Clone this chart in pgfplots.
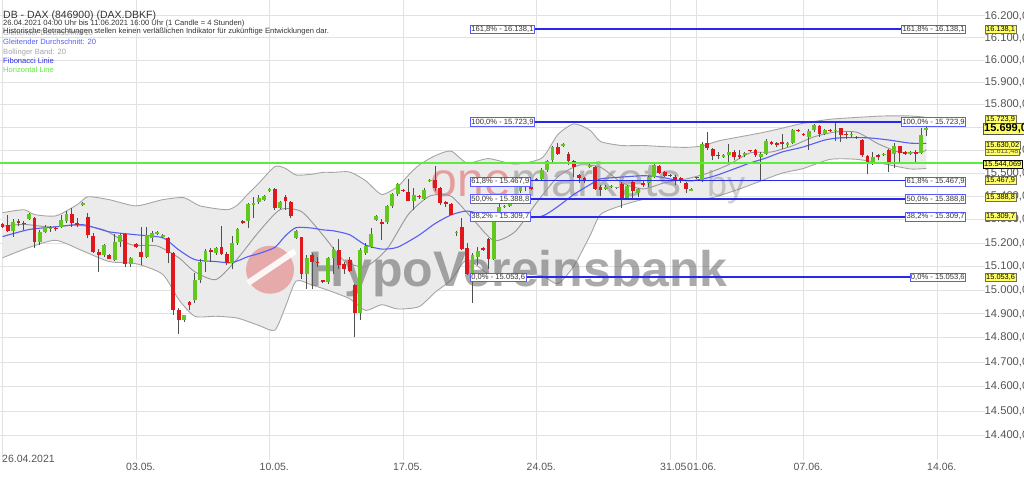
\documentclass[border=0pt]{standalone}
\usepackage{pgfplots}
\pgfplotsset{compat=1.18}
\usepackage{pgfplotstable}
\usepgfplotslibrary{fillbetween}
\usepackage{fontspec}
\setmainfont{Liberation Sans}

\definecolor{gridc}{RGB}{226,226,226}
\definecolor{tickc}{RGB}{85,85,85}
\definecolor{cgreen}{RGB}{98,200,30}
\definecolor{cred}{RGB}{224,24,30}
\definecolor{wickc}{RGB}{80,80,80}
\definecolor{maBlue}{RGB}{85,95,245}
\definecolor{bandc}{RGB}{165,165,165}
\definecolor{bandfill}{RGB}{235,235,235}
\definecolor{ma10c}{RGB}{150,150,150}
\definecolor{fibc}{RGB}{40,40,235}
\definecolor{fibbox}{RGB}{90,90,255}
\definecolor{hline}{RGB}{95,235,60}
\definecolor{ylw}{RGB}{255,255,100}
\definecolor{boxd}{RGB}{110,110,90}
\definecolor{txt}{RGB}{51,51,51}
\definecolor{wmgray}{RGB}{100,100,100}
\definecolor{wmred}{RGB}{220,40,40}

\pgfplotstableread{
n o h l c
0 15278 15282 15262 15267
1 15275 15318 15248 15252
2 15251 15302 15226 15288
3 15291 15302 15272 15284
4 15282 15291 15255 15279
5 15301 15327 15297 15322
6 15305 15312 15179 15205
7 15205 15255 15191 15244
8 15248 15277 15241 15267
9 15258 15272 15248 15265
10 15265 15269 15252 15263
11 15267 15320 15262 15295
12 15291 15334 15284 15324
13 15324 15351 15267 15284
14 15284 15305 15267 15277
15 15363 15374 15358 15370
16 15312 15327 15219 15233
17 15229 15241 15158 15162
18 15162 15172 15076 15148
19 15148 15195 15140 15191
20 15146 15152 15129 15132
21 15126 15238 15123 15205
22 15205 15236 15180 15233
23 15236 15241 15097 15109
24 15109 15140 15097 15136
25 15195 15201 15179 15183
26 15162 15269 15105 15140
27 15140 15269 15133 15233
28 15222 15251 15205 15241
29 15238 15252 15233 15248
30 15226 15238 15222 15233
31 15222 15226 15112 15155
32 15155 15162 14897 14914
33 14918 14922 14815 14875
34 14875 14897 14868 14894
35 14948 14954 14914 14937
36 14958 15072 14947 15043
37 15044 15129 15029 15116
38 15119 15172 15076 15166
39 15169 15176 15119 15162
40 15155 15183 15148 15176
41 15183 15272 15148 15152
42 15152 15162 15105 15112
43 15112 15229 15086 15201
44 15201 15262 15191 15258
45 15291 15295 15280 15284
46 15291 15370 15262 15365
47 15363 15398 15305 15370
48 15373 15406 15367 15391
49 15384 15407 15380 15401
50 15424 15436 15418 15430
51 15430 15434 15341 15348
52 15351 15377 15344 15373
53 15398 15406 15341 15377
54 15375 15380 15305 15315
55 15219 15255 15215 15251
56 15223 15226 15047 15069
57 15069 15148 15004 15137
58 15148 15155 15004 15119
59 15120 15140 15097 15112
60 15040 15044 15029 15033
61 15033 15140 15026 15133
62 15137 15183 15069 15172
63 15169 15215 15090 15105
64 15109 15116 15069 15090
65 15126 15140 15076 15080
66 15019 15026 14804 14904
67 14904 15176 14875 15169
68 15155 15198 15148 15188
69 15183 15262 15176 15236
70 15298 15320 15294 15315
71 15287 15301 15212 15281
72 15287 15363 15281 15358
73 15358 15413 15348 15408
74 15408 15456 15401 15451
75 15427 15431 15416 15420
76 15416 15473 15377 15380
77 15380 15434 15341 15406
78 15401 15405 15390 15395
79 15388 15434 15384 15427
80 15463 15474 15459 15470
81 15470 15530 15420 15434
82 15434 15441 15363 15370
83 15373 15377 15355 15367
84 15367 15370 15318 15320
85 15241 15252 15229 15248
86 15267 15305 15169 15173
87 15176 15198 15062 15069
88 15069 15155 14947 15148
89 15140 15183 15105 15166
90 15176 15180 15165 15169
91 15215 15219 15090 15129
92 15129 15320 15126 15305
93 15305 15377 15301 15355
94 15352 15362 15348 15358
95 15358 15384 15352 15380
96 15384 15406 15370 15398
97 15420 15463 15413 15453
98 15456 15459 15420 15438
99 15437 15441 15426 15430
100 15473 15477 15463 15467
101 15474 15520 15470 15513
102 15513 15556 15506 15552
103 15556 15616 15549 15613
104 15613 15631 15580 15585
105 15619 15632 15615 15628
106 15582 15592 15534 15552
107 15552 15556 15484 15527
108 15491 15496 15456 15480
109 15476 15484 15456 15470
110 15527 15538 15523 15534
111 15527 15530 15427 15430
112 15437 15449 15401 15427
113 15430 15449 15427 15438
114 15438 15447 15434 15444
115 15434 15441 15431 15438
116 15453 15459 15348 15391
117 15391 15449 15384 15444
118 15460 15470 15391 15420
119 15413 15434 15398 15430
120 15456 15463 15441 15449
121 15456 15487 15441 15481
122 15481 15542 15477 15534
123 15530 15534 15496 15502
124 15506 15510 15481 15487
125 15491 15494 15484 15487
126 15481 15491 15449 15470
127 15477 15484 15456 15470
128 15456 15461 15413 15430
129 15424 15434 15420 15430
130 15481 15484 15473 15476
131 15463 15635 15459 15628
132 15631 15678 15602 15609
133 15606 15610 15556 15573
134 15577 15592 15563 15573
135 15570 15581 15566 15577
136 15577 15628 15542 15592
137 15592 15599 15556 15570
138 15577 15599 15563 15570
139 15577 15592 15570 15588
140 15599 15602 15592 15595
141 15602 15606 15570 15577
142 15570 15592 15467 15585
143 15585 15649 15580 15642
144 15633 15642 15621 15628
145 15631 15635 15613 15621
146 15633 15671 15606 15628
147 15621 15635 15613 15631
148 15631 15692 15628 15688
149 15688 15692 15678 15682
150 15671 15675 15662 15666
151 15656 15692 15602 15682
152 15685 15714 15678 15711
153 15706 15711 15656 15671
154 15671 15692 15664 15688
155 15688 15692 15678 15682
156 15688 15724 15642 15690
157 15695 15699 15635 15664
158 15671 15678 15649 15664
159 15664 15678 15656 15671
160 15659 15662 15649 15653
161 15645 15649 15570 15577
162 15573 15577 15496 15539
163 15539 15592 15534 15570
164 15577 15585 15556 15570
165 15577 15588 15573 15585
166 15599 15606 15506 15542
167 15582 15631 15520 15616
168 15616 15620 15539 15588
169 15590 15596 15577 15585
170 15585 15596 15580 15592
171 15592 15599 15542 15585
172 15588 15696 15585 15666
173 15688 15703 15660 15699
}\candles

\newcommand{\smallf}{\fontsize{7.6}{9}\selectfont}
\newcommand{\tickf}{\fontsize{10.5}{12}\selectfont}

\begin{document}
\begin{tikzpicture}
\begin{axis}[
  at={(0pt,16pt)}, anchor=south west,
  scale only axis, width=985pt, height=460pt,
  xmin=-0.468, xmax=183.99,
  y coord trafo/.code={\pgfmathparse{ln(#1)}},
  y coord inv trafo/.code={\pgfmathparse{exp(#1)}},
  ymin=14302.3, ymax=16271.5,
  set layers, clip=false,
  axis line style={draw=none},
  major tick length=0pt,
  xtick={0,25,50,75,100,125,130,150,175},
  xticklabels={},
  xmajorgrids, ymajorgrids,
  grid style={gridc, line width=1pt},
  ytick={14400,14500,14600,14700,14800,14900,15000,15100,15200,15300,15400,15500,15600,15700,15800,15900,16000,16100,16200},
  yticklabels={{14.400,0},{14.500,0},{14.600,0},{14.700,0},{14.800,0},{14.900,0},{15.000,0},{15.100,0},{15.200,0},{15.300,0},{15.400,0},{15.500,0},{15.600,0},{15.700,0},{15.800,0},{15.900,0},{16.000,0},{16.100,0},{16.200,0}},
  yticklabel pos=right,
  yticklabel style={font=\fontsize{11.2}{13}\selectfont, text=tickc, anchor=west, inner sep=0pt, xshift=-0.5pt},
]
% Bollinger band
\addplot[name path=up, draw=bandc, line width=0.9pt, smooth, tension=0.4] coordinates {
(0,15328)(4,15341)(6,15320)(10,15315)(14,15363)(16,15397)(20,15384)(25,15358)(30,15384)(34,15393)(37,15358)(42,15341)(44,15362)(46,15410)(48,15456)(51,15528)(53,15520)(55,15491)(58,15495)(60,15503)(62,15503)(65,15504)(68,15467)(71,15408)(74,15441)(76,15490)(78,15535)(81,15575)(84,15596)(87,15543)(91,15563)(96,15539)(101,15566)(104,15668)(107,15716)(110,15688)(112,15638)(116,15620)(120,15620)(124,15615)(128,15612)(131,15618)(134,15640)(138,15657)(142,15675)(146,15696)(150,15718)(155,15735)(160,15744)(165,15749)(170,15749)(173,15744)};
\addplot[name path=lo, draw=bandc, line width=0.9pt, smooth, tension=0.4] coordinates {
(0,15135)(5,15180)(10,15210)(15,15165)(20,15120)(25,15110)(30,15065)(33,14960)(36,14890)(40,14890)(44,14882)(48,14851)(51,14832)(53,14930)(55,15038)(58,15020)(60,15007)(62,14990)(65,14963)(68,14914)(71,14938)(74,14920)(78,14929)(81,14990)(84,15042)(87,15128)(91,15068)(96,15070)(101,15060)(104,15027)(107,15101)(110,15229)(112,15321)(116,15360)(120,15385)(124,15390)(128,15390)(131,15385)(134,15400)(138,15430)(142,15465)(146,15500)(150,15520)(155,15560)(160,15560)(165,15540)(170,15518)(173,15520)};
\addplot[fill=bandfill, draw=none] fill between[of=up and lo];

% watermark
\fill[wmred, opacity=0.33] (axis cs:50.1,15085) circle[radius=24pt];
\draw[white, line width=6pt, opacity=0.9] (axis cs:46.0,15030) -- (axis cs:54.8,15165);
\node[anchor=base west, inner sep=0pt, text=wmgray, text opacity=0.55, font=\bfseries\fontsize{50}{55}\selectfont] at (axis cs:57.2,15013) {HypoVereinsbank};
\node[anchor=base west, inner sep=0pt, text opacity=0.4, font=\fontsize{48}{54}\selectfont] at (axis cs:80.2,15397) {\textcolor{wmred}{one}\textcolor{wmgray}{markets}};
\node[anchor=base west, inner sep=0pt, text=wmgray, text opacity=0.3, font=\fontsize{36}{40}\selectfont] at (axis cs:131.9,15397) {by};

% MA 10 (gray)
\addplot[ma10c, line width=0.9pt, smooth, tension=0.4] coordinates {
(0,15270)(4,15278)(9,15267)(14,15275)(19,15255)(24,15192)(29,15186)(33,15136)(36,15077)(40,15044)(44,15132)(48,15247)(52,15342)(56,15333)(60,15233)(64,15122)(68,15099)(72,15173)(76,15321)(80,15400)(84,15399)(88,15303)(92,15209)(96,15248)(100,15371)(104,15483)(108,15535)(112,15525)(116,15458)(120,15431)(124,15458)(128,15474)(132,15499)(136,15536)(140,15588)(144,15592)(148,15619)(152,15658)(156,15679)(160,15678)(164,15628)(168,15591)(172,15590)(173,15603)};
% MA 20 (blue)
\addplot[maBlue, line width=1.1pt, smooth, tension=0.4] coordinates {
(0,15226)(5,15256)(10,15268)(15,15277)(20,15247)(25,15234)(30,15221)(33,15170)(36,15128)(40,15120)(43,15115)(46,15141)(48,15153)(51,15180)(53,15230)(55,15265)(58,15262)(60,15255)(62,15251)(65,15234)(68,15190)(71,15173)(74,15181)(78,15232)(81,15281)(84,15319)(87,15336)(91,15315)(96,15304)(101,15313)(104,15355)(107,15408)(110,15450)(112,15475)(115,15481)(120,15488)(123,15483)(126,15470)(129,15466)(132,15479)(134,15492)(137,15518)(140,15544)(143,15566)(146,15592)(150,15614)(154,15644)(157,15653)(162,15653)(166,15644)(170,15631)(173,15630)};

% candles: one wick and one body per row of the table
\pgfplotsinvokeforeach{0,...,173}{%
  \pgfplotstablegetelem{#1}{o}\of\candles \let\cO\pgfplotsretval
  \pgfplotstablegetelem{#1}{h}\of\candles \let\cH\pgfplotsretval
  \pgfplotstablegetelem{#1}{l}\of\candles \let\cL\pgfplotsretval
  \pgfplotstablegetelem{#1}{c}\of\candles \let\cC\pgfplotsretval
  \ifnum\cC<\cO\relax \def\colr{cred}\else\def\colr{cgreen}\fi
  \edef\cmd{%
    \noexpand\addplot[wickc, line width=0.9pt, forget plot] coordinates {(#1,\cL) (#1,\cH)};
    \noexpand\addplot[\colr, line width=3.8pt, forget plot] coordinates {(#1,\cO) (#1,\cC)};
  }\cmd
}

% Fibonacci lines
\addplot[fibc, line width=1.7pt] coordinates {(87.55,16138.1) (180.43,16138.1)};
\addplot[fibc, line width=1.7pt] coordinates {(87.55,15723.9) (180.43,15723.9)};
\addplot[fibc, line width=1.7pt] coordinates {(87.55,15467.9) (180.43,15467.9)};
\addplot[fibc, line width=1.7pt] coordinates {(87.55,15388.8) (180.43,15388.8)};
\addplot[fibc, line width=1.7pt] coordinates {(87.55,15309.7) (180.43,15309.7)};
\addplot[fibc, line width=1.7pt] coordinates {(87.55,15053.6) (180.43,15053.6)};
% horizontal line
\addplot[hline, line width=2pt] coordinates {(-0.468,15544.069) (183.6,15544.069)};
\end{axis}

\begin{scope}[x=1pt, y=1pt]
% header texts
\node[anchor=base west, inner sep=0pt, text=txt, font=\fontsize{10.5}{12}\selectfont] at (3,457.7) {DB - DAX (846900) (DAX.DBKF)};
\node[anchor=base west, inner sep=0pt, text=txt, font=\smallf] at (3,450) {26.04.2021 04:00 Uhr bis 11.06.2021 16:00 Uhr (1 Candle = 4 Stunden)};
\node[anchor=base west, inner sep=0pt, text=bandc, font=\smallf] at (3,440) {Gleitender Durchschnitt 10};
\node[anchor=base west, inner sep=0pt, text=txt, font=\smallf] at (3,442.7) {Historische Betrachtungen stellen keinen verläßlichen Indikator für zukünftige Entwicklungen dar.};
\node[anchor=base west, inner sep=0pt, text=maBlue, font=\smallf] at (3,431) {Gleitender Durchschnitt: 20};
\node[anchor=base west, inner sep=0pt, text=bandc, font=\smallf] at (3,421.6) {Bollinger Band: 20};
\node[anchor=base west, inner sep=0pt, text=fibc, font=\smallf] at (3,412.5) {Fibonacci Linie};
\node[anchor=base west, inner sep=0pt, text=hline, font=\smallf] at (3,403.7) {Horizontal Line};

% date labels
\begin{scope}[every node/.style={anchor=base west, inner sep=0pt, text=tickc, font=\tickf}]
\node at (2,13) {26.04.2021};
\node at (126,5.5) {03.05.};
\node at (259.5,5.5) {10.05.};
\node at (393,5.5) {17.05.};
\node at (526.5,5.5) {24.05.};
\node at (660,5.5) {31.05};
\node at (687,5.5) {01.06.};
\node at (793.5,5.5) {07.06.};
\node at (927,5.5) {14.06.};
\end{scope}

% Fibonacci label boxes
\begin{scope}[every node/.style={fill=white, draw=fibbox, line width=0.8pt, inner sep=1pt, text=txt, font=\fontsize{7.6}{8}\selectfont, text height=5.4pt, text depth=1.3pt}]
\node[anchor=west] at (470,446.6) {161,8\% - 16.138,1};
\node[anchor=east] at (966,446.6) {161,8\% - 16.138,1};
\node[anchor=west] at (470,354) {100,0\% - 15.723,9};
\node[anchor=east] at (966,354) {100,0\% - 15.723,9};
\node[anchor=west] at (470,294.3) {61,8\% - 15.467,9};
\node[anchor=east] at (966,294.3) {61,8\% - 15.467,9};
\node[anchor=west] at (470,277) {50,0\% - 15.388,8};
\node[anchor=east] at (966,277) {50,0\% - 15.388,8};
\node[anchor=west] at (470,259.4) {38,2\% - 15.309,7};
\node[anchor=east] at (966,259.4) {38,2\% - 15.309,7};
\node[anchor=west] at (470,198.5) {0,0\% - 15.053,6};
\node[anchor=east] at (966,198.5) {0,0\% - 15.053,6};
\end{scope}

% yellow value labels on the right
\begin{scope}[every node/.style={anchor=west, fill=ylw, draw=boxd, line width=0.6pt, inner sep=0.9pt, text=black, font=\fontsize{7.4}{8}\selectfont, text height=5.3pt, text depth=1.2pt}]
\node at (985,446.6) {16.138,1};
\node at (985,356.5) {15.723,9};
\node[font=\bfseries\fontsize{11}{12}\selectfont, text height=7.6pt, text depth=1.6pt, draw=tickc] at (983,347.3) {15.699,0};
\node[text=tickc] at (985,325) {15.611,48};
\node at (985,330.5) {15.630,02};
\node[draw=black] at (983,311.5) {15.544,069};
\node at (985,295.5) {15.467,9};
\node at (985,278.5) {15.388,8};
\node at (985,260) {15.309,7};
\node at (985,198.5) {15.053,6};
\end{scope}

\pgfresetboundingbox
\useasboundingbox (0,0) rectangle (1024,476);
\end{scope}
\end{tikzpicture}
\end{document}
